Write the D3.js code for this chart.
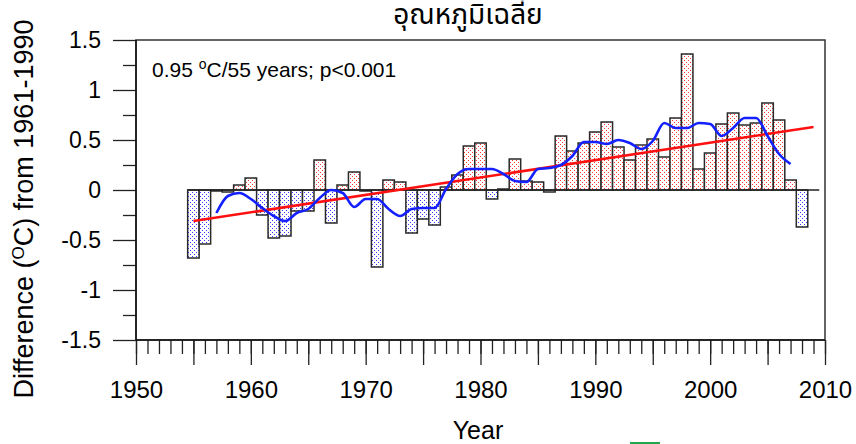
<!DOCTYPE html>
<html>
<head>
<meta charset="utf-8">
<script src="https://cdn.jsdelivr.net/npm/d3@7"></script>
<style>
  body { margin: 0; background: #fff; }
  svg text { font-family: "Liberation Sans", Arial, sans-serif; fill: #000; }
</style>
</head>
<body>
<svg id="chart" width="856" height="444"></svg>
<script>
// Annual temperature anomaly (°C) relative to the 1961-1990 mean
const years = [1955, 1956, 1957, 1958, 1959, 1960, 1961, 1962, 1963, 1964,
               1965, 1966, 1967, 1968, 1969, 1970, 1971, 1972, 1973, 1974,
               1975, 1976, 1977, 1978, 1979, 1980, 1981, 1982, 1983, 1984,
               1985, 1986, 1987, 1988, 1989, 1990, 1991, 1992, 1993, 1994,
               1995, 1996, 1997, 1998, 1999, 2000, 2001, 2002, 2003, 2004,
               2005, 2006, 2007, 2008];
const anomalies = [-0.68, -0.54, -0.01, -0.02, 0.05, 0.12, -0.25, -0.48, -0.46, -0.21,
                   -0.21, 0.30, -0.33, 0.05, 0.18, -0.01, -0.77, 0.10, 0.08, -0.43,
                   -0.29, -0.35, 0.03, 0.15, 0.44, 0.47, -0.09, 0.01, 0.31, 0.09,
                   0.08, -0.02, 0.54, 0.39, 0.47, 0.58, 0.68, 0.43, 0.30, 0.45,
                   0.51, 0.33, 0.72, 1.36, 0.21, 0.37, 0.66, 0.77, 0.65, 0.67,
                   0.87, 0.70, 0.10, -0.37];

// Smoothed curve
const smoothYears = [1957, 1958, 1959, 1960, 1961, 1962, 1963, 1964, 1965, 1966,
                     1967, 1968, 1969, 1970, 1971, 1972, 1973, 1974, 1975, 1976,
                     1977, 1978, 1979, 1980, 1981, 1982, 1983, 1984, 1985, 1986,
                     1987, 1988, 1989, 1990, 1991, 1992, 1993, 1994, 1995, 1996,
                     1997, 1998, 1999, 2000, 2001, 2002, 2003, 2004, 2005, 2006, 2007];
const smoothed = [-0.23, -0.06, -0.03, -0.09, -0.18, -0.26, -0.31, -0.23, -0.19, -0.08,
                  0.00, -0.03, -0.17, -0.09, -0.09, -0.19, -0.26, -0.19, -0.18, -0.18,
                  0.01, 0.16, 0.21, 0.21, 0.21, 0.16, 0.09, 0.08, 0.21, 0.22,
                  0.25, 0.34, 0.48, 0.48, 0.46, 0.50, 0.47, 0.41, 0.49, 0.67,
                  0.62, 0.62, 0.67, 0.66, 0.54, 0.62, 0.72, 0.72, 0.54, 0.36, 0.26];

// Linear trend (0.95 °C per 55 years)
const trendYears = [1955, 2009];
const trendValues = [-0.31, 0.63];

// Axis ticks and labels
const yMajorTicks = [-1.5, -1, -0.5, 0, 0.5, 1, 1.5];
const yTickLabels = ["-1.5", "-1", "-0.5", "0", "0.5", "1", "1.5"];
const yMinorTicks = [-1.25, -0.75, -0.25, 0.25, 0.75, 1.25];
const xLabelTicks = [1950, 1960, 1970, 1980, 1990, 2000, 2010];
const xTickLabels = ["1950", "1960", "1970", "1980", "1990", "2000", "2010"];
const xMidTicks = [1955, 1965, 1975, 1985, 1995, 2005];

const titleText = "อุณหภูมิเฉลี่ย";
const xAxisTitle = "Year";

const svg = d3.select("#chart");
const plotLeft = 136, plotRight = 825, plotTop = 40, plotBottom = 340;

const x = d3.scaleLinear().domain([1950, 2010]).range([plotLeft, plotRight]);
const y = d3.scaleLinear().domain([-1.5, 1.5]).range([plotBottom, plotTop]);

// Dotted fills
const defs = svg.append("defs");
function dotPattern(id, color) {
  const p = defs.append("pattern")
    .attr("id", id)
    .attr("patternUnits", "userSpaceOnUse")
    .attr("width", 4).attr("height", 4);
  p.append("rect").attr("width", 4).attr("height", 4).attr("fill", "#fff");
  p.append("rect").attr("x", 0).attr("y", 0).attr("width", 1).attr("height", 1).attr("fill", color);
  p.append("rect").attr("x", 2).attr("y", 2).attr("width", 1).attr("height", 1).attr("fill", color);
}
dotPattern("dotsWarm", "#ff3a3a");
dotPattern("dotsCool", "#3a3aff");

// Plot frame
svg.append("rect")
  .attr("x", plotLeft).attr("y", plotTop)
  .attr("width", plotRight - plotLeft).attr("height", plotBottom - plotTop)
  .attr("fill", "none").attr("stroke", "#333").attr("stroke-width", 1.5);

// Bars
const barData = years.map((yr, i) => ({ year: yr, value: anomalies[i] }));
svg.append("g").selectAll("rect")
  .data(barData)
  .join("rect")
  .attr("x", d => x(d.year - 0.5))
  .attr("width", d => x(d.year + 0.5) - x(d.year - 0.5))
  .attr("y", d => y(Math.max(0, d.value)))
  .attr("height", d => Math.abs(y(d.value) - y(0)))
  .attr("fill", d => d.value >= 0 ? "url(#dotsWarm)" : "url(#dotsCool)")
  .attr("stroke", "#2a2a2a")
  .attr("stroke-width", 1.5);

// Zero line
svg.append("line")
  .attr("x1", x(1954.5)).attr("x2", x(2009.5))
  .attr("y1", y(0)).attr("y2", y(0))
  .attr("stroke", "#222").attr("stroke-width", 1.5);

// Trend line
svg.append("path")
  .datum(trendYears.map((yr, i) => [yr, trendValues[i]]))
  .attr("d", d3.line().x(d => x(d[0])).y(d => y(d[1])))
  .attr("fill", "none").attr("stroke", "#ff1010").attr("stroke-width", 2.6);

// Smoothed curve
svg.append("path")
  .datum(smoothYears.map((yr, i) => [yr, smoothed[i]]))
  .attr("d", d3.line().x(d => x(d[0])).y(d => y(d[1])).curve(d3.curveMonotoneX))
  .attr("fill", "none").attr("stroke", "#1420ff").attr("stroke-width", 2.6);

// Y axis
function styleAxis(g) {
  g.select(".domain").remove();
  g.selectAll(".tick line").attr("stroke", "#222").attr("stroke-width", 1.3);
  g.selectAll("text").attr("font-family", "Liberation Sans, Arial, sans-serif");
}
svg.append("g")
  .attr("transform", `translate(${plotLeft},0)`)
  .call(d3.axisLeft(y).tickValues(yMinorTicks).tickSize(13).tickFormat(""))
  .call(styleAxis);
svg.append("g")
  .attr("transform", `translate(${plotLeft},0)`)
  .call(d3.axisLeft(y).tickValues(yMajorTicks).tickSize(23).tickPadding(12)
        .tickFormat((d, i) => yTickLabels[i]))
  .call(styleAxis)
  .call(g => g.selectAll("text").attr("font-size", 23));
svg.append("line")
  .attr("x1", plotLeft).attr("x2", plotLeft).attr("y1", plotTop).attr("y2", plotBottom)
  .attr("stroke", "#111").attr("stroke-width", 1.5);

// X axis
svg.append("g")
  .attr("transform", `translate(0,${plotBottom})`)
  .call(d3.axisBottom(x).tickValues(d3.range(1950, 2011)).tickSize(14).tickFormat(""))
  .call(styleAxis);
svg.append("g")
  .attr("transform", `translate(0,${plotBottom})`)
  .call(d3.axisBottom(x).tickValues(xMidTicks).tickSize(25).tickFormat(""))
  .call(styleAxis);
svg.append("g")
  .attr("transform", `translate(0,${plotBottom})`)
  .call(d3.axisBottom(x).tickValues(xLabelTicks).tickSize(25).tickPadding(16)
        .tickFormat((d, i) => xTickLabels[i]))
  .call(styleAxis)
  .call(g => g.selectAll("text").attr("font-size", 24));
svg.append("line")
  .attr("x1", plotLeft).attr("x2", plotRight).attr("y1", plotBottom).attr("y2", plotBottom)
  .attr("stroke", "#111").attr("stroke-width", 1.5);

// Titles
svg.append("text")
  .attr("x", 468).attr("y", 24)
  .attr("text-anchor", "middle")
  .attr("font-size", 28)
  .style("font-family", "'Noto Sans Thai', 'Noto Serif Thai', Tahoma, 'DejaVu Sans', sans-serif")
  .text(titleText);

svg.append("text")
  .attr("x", 478).attr("y", 439)
  .attr("text-anchor", "middle")
  .attr("font-size", 25)
  .text(xAxisTitle);

const yTitle = svg.append("text")
  .attr("transform", "translate(33,209) rotate(-90)")
  .attr("text-anchor", "middle")
  .attr("font-size", 27);
yTitle.append("tspan").text("Difference (");
yTitle.append("tspan").attr("font-size", 17).attr("dy", -9).text("O");
yTitle.append("tspan").attr("dy", 9).text("C) from 1961-1990");

// Trend annotation
const note = svg.append("text")
  .attr("x", 152).attr("y", 77)
  .attr("font-size", 21);
note.append("tspan").text("0.95 ");
note.append("tspan").attr("font-size", 14).attr("dy", -8).text("o");
note.append("tspan").attr("dy", 8).text("C/55 years; p<0.001");

// Small marker at the lower edge
svg.append("rect")
  .attr("x", 630).attr("y", 442).attr("width", 30).attr("height", 2)
  .attr("fill", "#22a84a");
</script>
</body>
</html>
